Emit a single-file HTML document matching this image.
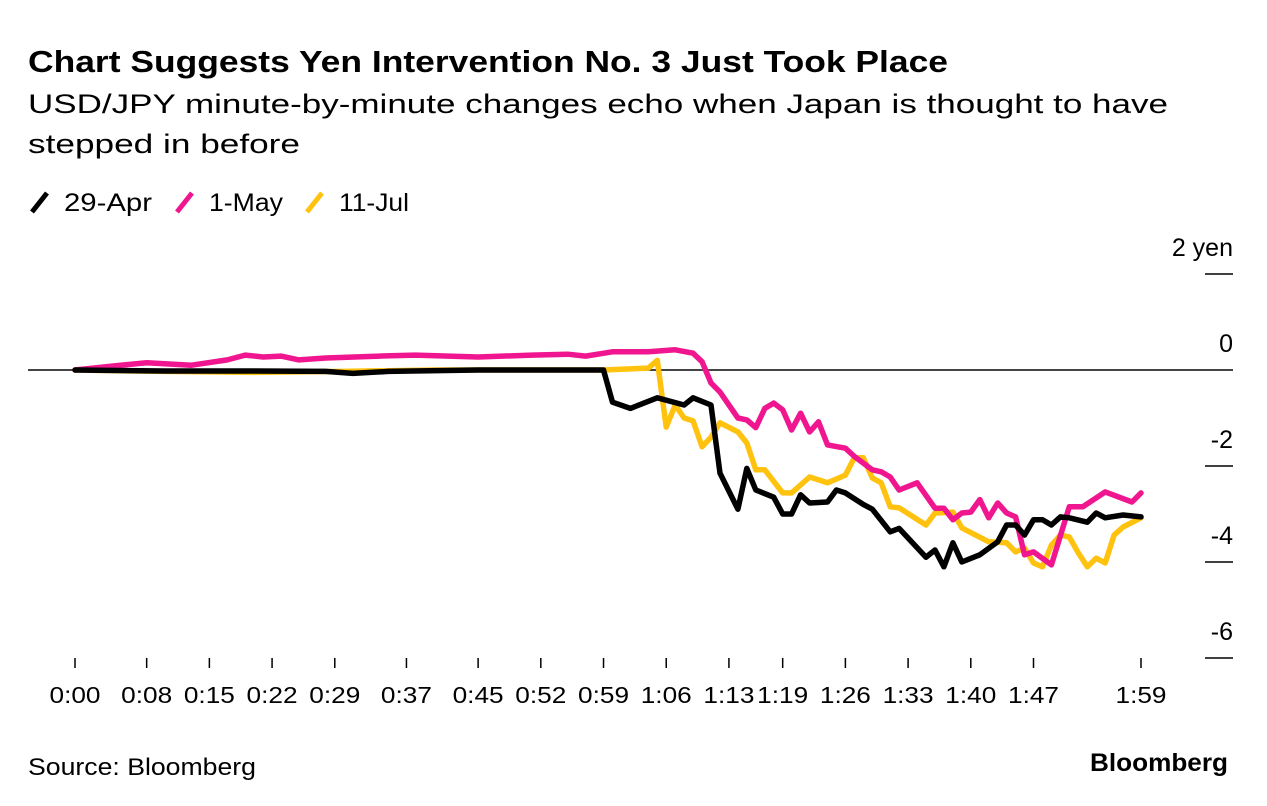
<!DOCTYPE html>
<html><head><meta charset="utf-8"><style>
body{margin:0;background:#fff;font-family:"Liberation Sans",sans-serif;}
svg{display:block}
</style></head><body>
<svg width="1267" height="806" id="chart">
<text x="28" y="72" font-size="31" font-weight="bold" fill="#000" textLength="920" lengthAdjust="spacingAndGlyphs">Chart Suggests Yen Intervention No. 3 Just Took Place</text>
<text x="28" y="113" font-size="27" fill="#000" textLength="1140" lengthAdjust="spacingAndGlyphs">USD/JPY minute-by-minute changes echo when Japan is thought to have</text>
<text x="28" y="153" font-size="27" fill="#000" textLength="272" lengthAdjust="spacingAndGlyphs">stepped in before</text>
<g>
<g><line x1="32" y1="212" x2="47" y2="193" stroke="#000" stroke-width="5"/><text x="64" y="211" font-size="25" textLength="88" lengthAdjust="spacingAndGlyphs">29-Apr</text></g>
<g><line x1="177" y1="212" x2="192" y2="193" stroke="#f0168f" stroke-width="5"/><text x="209" y="211" font-size="25" textLength="74" lengthAdjust="spacingAndGlyphs">1-May</text></g>
<g><line x1="307" y1="212" x2="322" y2="193" stroke="#ffc20e" stroke-width="5"/><text x="339" y="211" font-size="25" textLength="70" lengthAdjust="spacingAndGlyphs">11-Jul</text></g>
</g>
<g id="yaxis"></g>
<g id="xaxis"></g>
<g id="series"></g>
<text x="28" y="775" font-size="24" textLength="228" lengthAdjust="spacingAndGlyphs">Source: Bloomberg</text>
<text x="1090" y="771" font-size="25" font-weight="bold" textLength="138" lengthAdjust="spacingAndGlyphs">Bloomberg</text>
</svg>
<script>
const yTicks=[2,0,-2,-4,-6];
const yTickLabels=["2 yen","0","-2","-4","-6"];
const xTickMinutes=[0,8,15,22,29,37,45,52,59,66,73,79,86,93,100,107,119];
const xTickLabels=["0:00","0:08","0:15","0:22","0:29","0:37","0:45","0:52","0:59","1:06","1:13","1:19","1:26","1:33","1:40","1:47","1:59"];
const seriesNames=["29-Apr","1-May","11-Jul"];
const aprMinutes=[0,10,20,28,31,35,45,55,59,60,62,65,68,69,71,72,74,75,76,78,79,80,81,82,84,85,86,88,89,91,92,95,96,97,98,99,101,103,104,105,106,107,108,109,110,111,113,114,115,117,119];
const aprValues=[0,-0.02,-0.02,-0.03,-0.07,-0.03,0,0,0,-0.67,-0.8,-0.58,-0.73,-0.58,-0.73,-2.15,-2.9,-2.05,-2.5,-2.65,-3.0,-3.0,-2.6,-2.77,-2.75,-2.5,-2.56,-2.8,-2.9,-3.37,-3.3,-3.9,-3.75,-4.1,-3.6,-4.0,-3.85,-3.58,-3.23,-3.23,-3.44,-3.12,-3.12,-3.23,-3.06,-3.08,-3.17,-2.98,-3.08,-3.02,-3.06];
const mayMinutes=[0,4,8,13,17,19,21,23,25,28,34,38,45,51,55,57,60,64,67,69,70,71,72,74,75,76,77,78,79,80,81,82,83,84,86,87,89,90,91,92,94,96,97,98,99,100,101,102,103,104,105,106,107,109,111,112.5,115,118,119];
const mayValues=[0,0.08,0.15,0.1,0.21,0.31,0.27,0.29,0.21,0.25,0.29,0.31,0.27,0.31,0.33,0.29,0.38,0.38,0.42,0.35,0.17,-0.27,-0.46,-1.0,-1.04,-1.2,-0.8,-0.69,-0.83,-1.25,-0.9,-1.29,-1.08,-1.56,-1.63,-1.8,-2.08,-2.12,-2.23,-2.5,-2.35,-2.88,-2.88,-3.12,-2.98,-2.96,-2.7,-3.08,-2.77,-2.98,-3.06,-3.85,-3.79,-4.06,-2.85,-2.85,-2.54,-2.75,-2.56];
const julMinutes=[0,10,20,30,40,50,59,64,65,66,67,68,69,70,71,72,74,75,76,77,79,80,82,84,86,87,88,89,90,91,92,95,96,98,99,102,104,105,106,107,108,109,110,111,112,113,114,115,116,117,119];
const julValues=[0,-0.03,-0.05,-0.03,0,0,0,0.04,0.2,-1.19,-0.73,-1.0,-1.06,-1.6,-1.4,-1.1,-1.29,-1.52,-2.08,-2.08,-2.56,-2.56,-2.23,-2.35,-2.19,-1.83,-1.83,-2.25,-2.35,-2.85,-2.87,-3.23,-2.98,-2.96,-3.29,-3.58,-3.6,-3.79,-3.71,-4.02,-4.1,-3.65,-3.44,-3.48,-3.81,-4.1,-3.92,-4.02,-3.44,-3.27,-3.08];
const NS="http://www.w3.org/2000/svg";
const xS=m=>75+m*(1066/119);
const yS=v=>370-v*48;
function mk(tag,attrs,parent){const e=document.createElementNS(NS,tag);for(const k in attrs)e.setAttribute(k,attrs[k]);parent.appendChild(e);return e;}
const ya=document.getElementById('yaxis'),xa=document.getElementById('xaxis'),sg=document.getElementById('series');
yTicks.forEach((v,i)=>{
  const y=yS(v);
  if(v===0){const l=mk('line',{x1:28,x2:1233,y1:y,y2:y,stroke:'#444','stroke-width':2},ya);
    
    }
  else{const l=mk('line',{x1:1205,x2:1233,y1:y,y2:y,stroke:'#000','stroke-width':1.5},ya);
    
    }
  const t=mk('text',{x:1233,y:y-18,'font-size':25,'text-anchor':'end'},ya);
  t.textContent=yTickLabels[i];
  
  
});
xTickMinutes.forEach((m,i)=>{
  const x=xS(m);
  const l=mk('line',{x1:x,x2:x,y1:658,y2:668,stroke:'#000','stroke-width':1.5},xa);
  
  
  const t=mk('text',{x:x,y:703,'font-size':23,'text-anchor':'middle',textLength:51,lengthAdjust:'spacingAndGlyphs'},xa);
  t.textContent=xTickLabels[i];
  
  
});
const ser=[[julMinutes,julValues,'#ffc20e','line-11-jul'],[mayMinutes,mayValues,'#f0168f','line-1-may'],[aprMinutes,aprValues,'#000','line-29-apr']];
ser.forEach(s=>{
  const d=s[0].map((m,i)=>(i?'L':'M')+xS(m).toFixed(1)+' '+yS(s[1][i]).toFixed(1)).join(' ');
  const p=mk('path',{d:d,fill:'none',stroke:s[2],'stroke-width':5.5,'stroke-linejoin':'round','stroke-linecap':'round'},sg);
  
  
});
</script>
</body></html>
